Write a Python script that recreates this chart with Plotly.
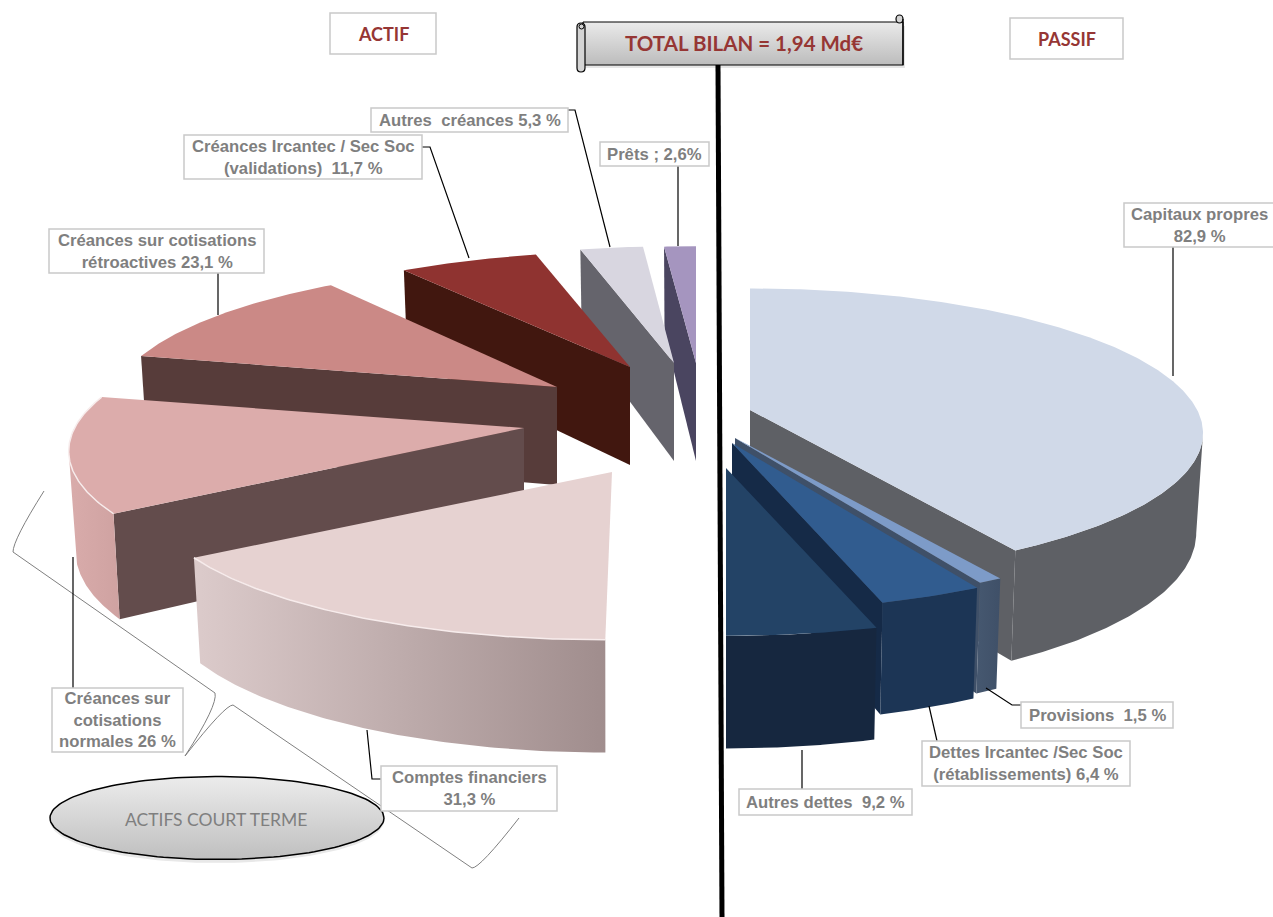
import numpy as np
import plotly.graph_objects as go

# ---------- data ----------
actif_names = ["Comptes financiers", "Créances sur cotisations normales", "Créances sur cotisations rétroactives",
               "Créances Ircantec / Sec Soc (validations)", "Autres créances", "Prêts"]
actif_values = [31.3, 26.0, 23.1, 11.7, 5.3, 2.6]
passif_names = ["Capitaux propres", "Provisions", "Dettes Ircantec /Sec Soc (rétablissements)", "Autres dettes"]
passif_values = [82.9, 1.5, 6.4, 9.2]

# ---------- geometry of the half-pie (exploded slices) ----------
RX, RY, K, DEPTH, TAPER = 454.0, 141.0, 0.16, 98.0, 0.985
SILH = np.degrees(np.arccos(-K))  # angle of the widest visible point of the disc
# apex x, apex y, x scale, y scale, shear
actif_geom = [(612, 472, 1.0, 1.0, -0.04), (524, 428, 0.99, 1.0, 0), (557, 387, 0.975, 1.0, 0),
              (630, 367, 0.975, 0.95, 0), (674, 363, 0.97, 0.96, 0), (696, 363, 1.0, 0.96, 0)]
passif_geom = [(750, 410, 0.985, 1.0, 0), (735, 438, 0.985, 1.0, 0), (732, 443, 0.985, 1.0, 0),
               (726, 468, 0.985, 1.0, 0)]

actif_style = [  # top, radial wall, arc wall left, arc wall right
    ("#e6d2d1", "#6b5656", "#dccbcb", "#a08d8d"),
    ("#dcacab", "#634c4c", "#d9acab", "#cfa2a1"),
    ("#cb8986", "#573c3a", "#573c3a", "#573c3a"),
    ("#8f3330", "#41170f", "#41170f", "#41170f"),
    ("#d8d6e0", "#65646c", "#65646c", "#65646c"),
    ("#a595bf", "#4a4560", "#4a4560", "#4a4560"),
]
passif_style = [
    ("#d0d9e8", "#5e6065", "#5e6065", "#5e6065"),
    ("#7d9bc8", "#3f5068", "#465870", "#3f5068"),
    ("#315c8f", "#152a47", "#1c3555", "#1c3555"),
    ("#234366", "#16273f", "#16273f", "#16273f"),
]


def project(theta, g):
    """theta in degrees, clockwise from the top of the disc."""
    ax, ay, sx, sy, sh = g
    t = np.radians(theta)
    w = 1 + K * np.cos(t)
    dy = -RY * sy * np.cos(t) / w
    return ax + RX * sx * np.sin(t) / w + sh * dy, ay + dy


def drop(theta):
    return DEPTH / (1 + K * np.cos(np.radians(theta))) ** 0.8


def add_poly(fig, xs, ys, color, grad=None):
    kw = dict(x=list(xs), y=list(ys), mode="lines", line=dict(width=0), fill="toself",
              fillcolor=color, hoverinfo="skip", showlegend=False)
    if grad:
        kw["fillgradient"] = dict(type=grad[0], colorscale=[[0, grad[1]], [1, grad[2]]])
    fig.add_trace(go.Scatter(**kw))


def add_slice(fig, start, end, g, style, bevel=False):
    top, radial, a0, a1 = style
    ax, ay = g[0], g[1]
    for th, vis in ((start, np.sin(np.radians(start)) < -1e-6), (end, np.sin(np.radians(end)) > 1e-6)):
        if vis:
            ox, oy = project(th, g)
            add_poly(fig, [ax, ox, ax + (ox - ax) * TAPER, ax],
                     [ay, oy, oy + drop(th), ay + DEPTH], radial)
    lo, hi = max(start, SILH), min(end, 360 - SILH)
    if hi > lo:
        th = np.linspace(lo, hi, 90)
        ox, oy = project(th, g)
        bx, by = ax + (ox - ax) * TAPER, oy + drop(th)
        add_poly(fig, np.r_[ox, bx[::-1]], np.r_[oy, by[::-1]], a0, ("horizontal", a0, a1))
    th = np.linspace(start, end, max(int(end - start) * 2, 12))
    ox, oy = project(th, g)
    add_poly(fig, np.r_[ax, ox, ax], np.r_[ay, oy, ay], top)
    if bevel:
        fig.add_trace(go.Scatter(x=ox, y=oy, mode="lines", line=dict(color="#f7ecec", width=1.5),
                                 hoverinfo="skip", showlegend=False))


fig = go.Figure()

# Actif: clockwise from the bottom; Passif: clockwise from the top. Both fill a half disc.
cum = 180.0
slices_a = []
for v in actif_values:
    slices_a.append((cum, cum + v * 1.8))
    cum += v * 1.8
for i in [5, 4, 3, 2, 1, 0]:
    add_slice(fig, *slices_a[i], actif_geom[i], actif_style[i], bevel=i < 2)

cum = 0.0
slices_p = []
for v in passif_values:
    slices_p.append((cum, cum + v * 1.8))
    cum += v * 1.8
for i in range(4):
    add_slice(fig, *slices_p[i], passif_geom[i], passif_style[i])

# ---------- decorations ----------
e = np.linspace(0, 2 * np.pi, 160)
add_poly(fig, 217 + 167 * np.cos(e), 821 + 42 * np.sin(e), "#e8e8e8")
fig.add_trace(go.Scatter(x=217 + 167 * np.cos(e), y=818 + 41.5 * np.sin(e), mode="lines", fill="toself",
                         line=dict(color="#000000", width=1.5),
                         fillgradient=dict(type="vertical", colorscale=[[0, "#bfbfbf"], [1, "#ececec"]]),
                         hoverinfo="skip", showlegend=False))

add_poly(fig, [586, 905, 905, 586], [26, 26, 68, 68], "#e6e6e6")
fig.add_trace(go.Scatter(x=[583, 903, 903, 583, 583], y=[22, 22, 65, 65, 22], mode="lines", fill="toself",
                         line=dict(color="#000000", width=1.2),
                         fillgradient=dict(type="vertical", colorscale=[[0, "#bcbcbc"], [1, "#eaeaea"]]),
                         hoverinfo="skip", showlegend=False))

GRAY = "#7f7f7f"
BOX = "#c9c9c9"
RED = "#963634"
LAB = "Liberation Sans"
shapes, annos = [], []


def line(pts, color="#000000", width=1.2):
    p = "M" + " L".join(f"{a},{b}" for a, b in pts)
    shapes.append(dict(type="path", path=p, line=dict(color=color, width=width), xref="x", yref="y"))


line([(718, 65), (722, 917)], width=5)

shapes.append(dict(type="path", xref="x", yref="y", line=dict(color="#808080", width=1),
                   path="M44,491 Q13,540 13,552 L215,693 Q218,705 185,756 Q225,705 233,705 L472,868 Q480,868 519,818"))

# scroll rolls
shapes.append(dict(type="path", xref="x", yref="y", line=dict(color="#000", width=1.2), fillcolor="#d4d4d4",
                   path="M577,27 Q577,23 581,23 Q585,23 585,27 L585,68 Q585,72 581,72 Q577,72 577,68 Z"))
shapes.append(dict(type="circle", x0=579, x1=584, y0=24, y1=29, line=dict(color="#000", width=1), fillcolor="#d4d4d4", xref="x", yref="y"))
shapes.append(dict(type="circle", x0=896, x1=903, y0=15, y1=23, line=dict(color="#000", width=1.2), fillcolor="#d4d4d4", xref="x", yref="y"))
line([(903, 19), (903, 65)])

for pts in [
    [(568, 110), (575, 110), (610, 247)],
    [(678, 166), (678, 246)],
    [(422, 147), (430, 147), (469, 258)],
    [(218, 273), (218, 315)],
    [(73, 688), (73, 557)],
    [(381, 779), (372, 779), (367, 730)],
    [(1021, 705), (1012, 705), (986, 688)],
    [(937, 741), (929, 706)],
    [(802, 789), (802, 750)],
    [(1173, 247), (1173, 376)],
]:
    line(pts)

label_texts = [
    "ACTIF", "PASSIF",
    "Autres  créances 5,3 %", "Prêts ; 2,6%",
    "Créances Ircantec / Sec Soc<br>(validations)  11,7 %",
    "Créances sur cotisations<br>rétroactives 23,1 %",
    "Créances sur<br>cotisations<br>normales 26 %",
    "Comptes financiers<br>31,3 %",
    "Capitaux propres<br>82,9 %",
    "Provisions  1,5 %",
    "Dettes Ircantec /Sec Soc<br>(rétablissements) 6,4 %",
    "Autres dettes  9,2 %",
]
label_boxes = [
    (330, 13, 436, 54), (1010, 18, 1123, 59),
    (371, 108, 568, 132), (600, 142, 709, 166),
    (184, 135, 422, 179), (49, 229, 264, 273),
    (52, 688, 183, 752), (381, 766, 557, 811),
    (1124, 203, 1275, 247), (1021, 702, 1173, 728),
    (922, 741, 1130, 786), (739, 789, 912, 815),
]
for i, (txt, b) in enumerate(zip(label_texts, label_boxes)):
    shapes.append(dict(type="rect", x0=b[0], y0=b[1], x1=b[2], y1=b[3], fillcolor="#ffffff",
                       line=dict(color=BOX, width=1.5), xref="x", yref="y"))
    head = i < 2
    annos.append(dict(x=(b[0] + b[2]) / 2, y=(b[1] + b[3]) / 2, text=f"<b>{txt}</b>", showarrow=False,
                      xref="x", yref="y", xanchor="center", yanchor="middle",
                      font=dict(family="Lato" if head else LAB, size=18 if head else 16.7,
                                color=RED if head else GRAY)))

annos.append(dict(x=744, y=43, text="<b>TOTAL BILAN = 1,94 Md€</b>", showarrow=False, xref="x", yref="y",
                  font=dict(family="Lato", size=20.5, color=RED)))
annos.append(dict(x=216, y=819, text="ACTIFS COURT TERME", showarrow=False, xref="x", yref="y",
                  font=dict(family="Lato", size=17.5, color="#7f7f7f")))

fig.update_layout(
    width=1273, height=917, margin=dict(l=0, r=0, t=0, b=0),
    paper_bgcolor="#ffffff", plot_bgcolor="#ffffff", showlegend=False,
    xaxis=dict(range=[0, 1273], visible=False, fixedrange=True),
    yaxis=dict(range=[917, 0], visible=False, fixedrange=True),
    shapes=shapes, annotations=annos,
)

fig.write_html("out.html", config=dict(displayModeBar=False),
               post_script="document.body.style.margin='0';document.body.style.overflow='hidden';")
